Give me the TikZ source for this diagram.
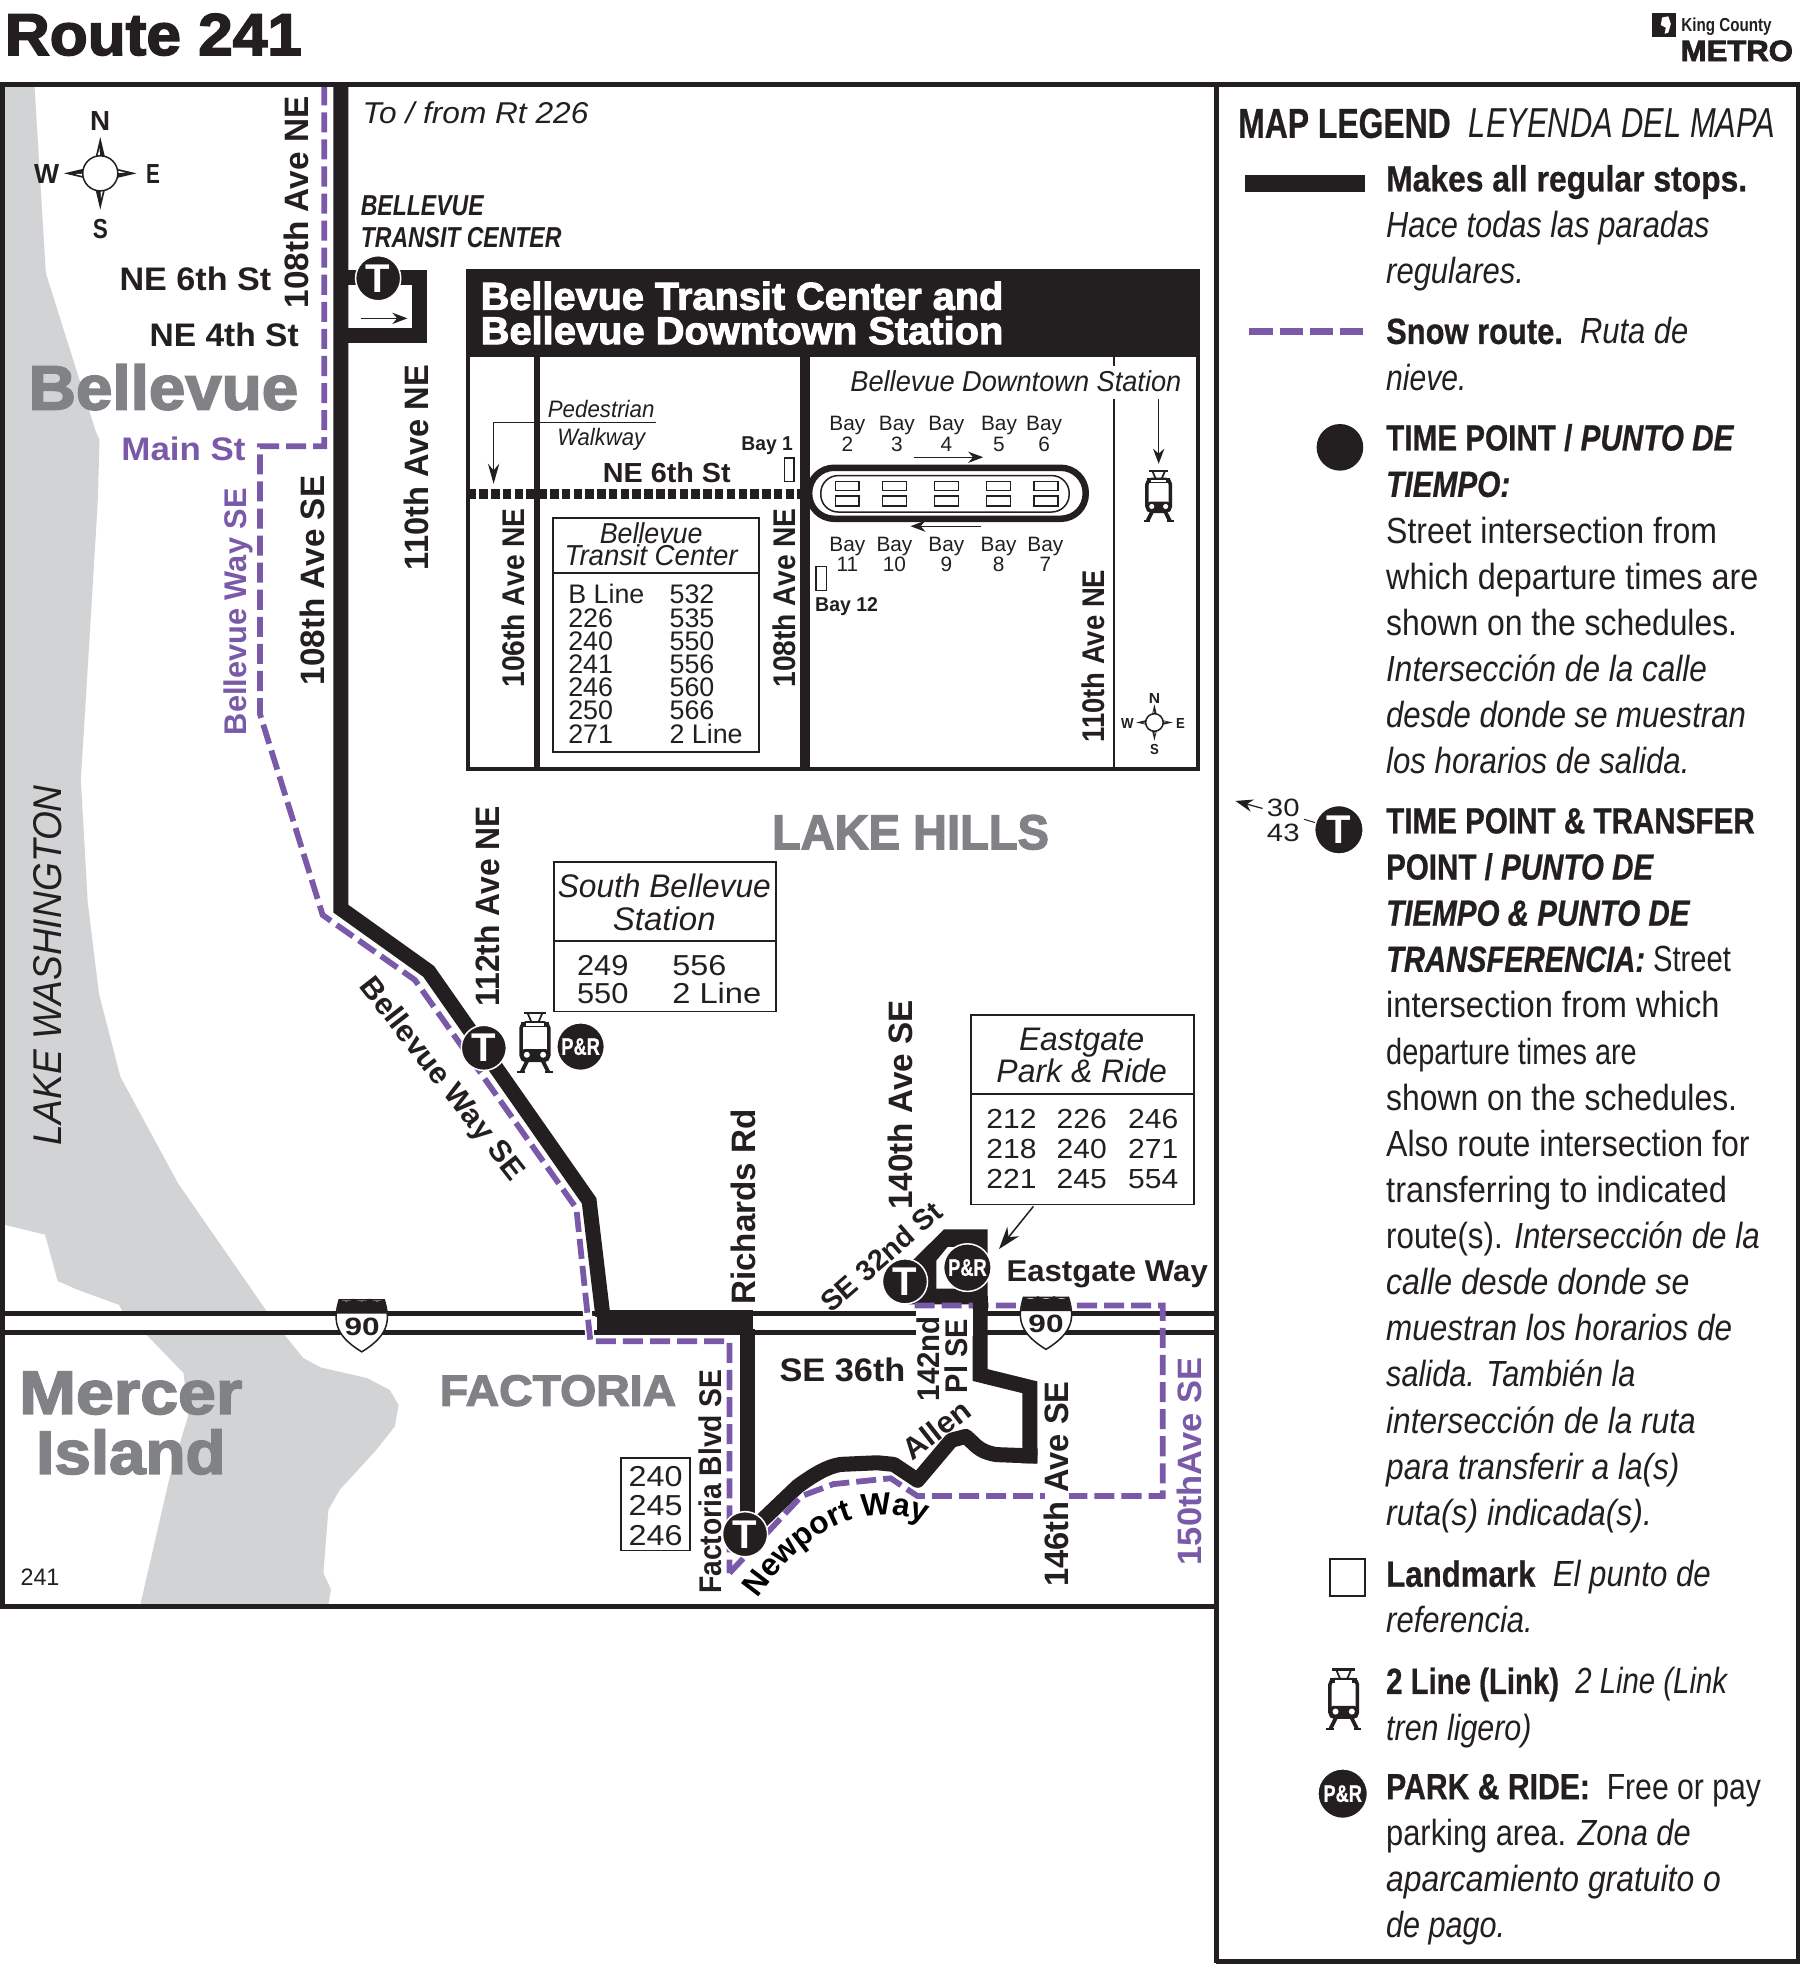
\documentclass[tikz,border=0pt]{standalone}
\usepackage{fontspec}
\usepackage{graphicx}
\usetikzlibrary{arrows.meta,decorations.text}
\setmainfont{Liberation Sans}
\newfontfamily\heavy[FakeBold=2.6]{Liberation Sans}
\newfontfamily\legb[FakeBold=.7]{Liberation Sans}
\definecolor{ink}{HTML}{231F20}
\definecolor{snow}{HTML}{7A5AA8}
\definecolor{lake}{HTML}{D1D3D4}
\definecolor{gtext}{HTML}{808285}
\newcommand\fs[1]{\fontsize{#1}{#1}\selectfont}
\newcommand\nwfont{\fs{12.6}\bfseries}
% \TX{options}{x}{y}{width in picture units}{font}{text}: text fitted to width, centred on its capitals
\newcommand\TX[6]{\pgfmathsetlengthmacro\lw{(#4)/2}\node[inner sep=0,text=ink,#1] at (#2,#3) {\resizebox{\lw}{\height}{#5\raisebox{0pt}[0.716em][0pt]{#6}}};}
% legend line: y of capitals' centre, right end, text
\newcommand\LG[3]{\TX{anchor=west}{1105.5}{#1-1}{#2-1106}{\fs{14.5}}{#3}}
\newcommand\BT{\legb\bfseries}
\newcommand\IT{\rmfamily\mdseries\itshape}
\newcommand\RG{\rmfamily\mdseries\upshape}
\newcommand\PRtext{\resizebox{15.4pt}{\height}{P\&R}}
\tikzset{
  tp/.style={circle,fill=ink,draw=white,line width=.6pt,text=white,inner sep=0,minimum size=18pt,font=\fs{16}\bfseries},
  pr/.style={circle,fill=ink,draw=white,line width=.6pt,text=white,inner sep=0,minimum size=19pt,font=\fs{9.6}\legb\bfseries},
  route/.style={ink,line width=6pt,line join=miter},
  snowline/.style={snow,line width=2.3pt,dash pattern=on 8pt off 2.8pt,line join=miter},
  snowcase/.style={white,line width=3.6pt},
  thinarrow/.style={ink,line width=.5pt,-{Stealth[length=6pt,width=4.5pt]}},
  frameline/.style={ink,line width=2pt},
  boxline/.style={ink,line width=.75pt},
  small/.style={inner sep=0,text=ink,text height=6pt,text depth=0pt,font=\fs{8.3}},
  busno/.style={inner sep=0,text=ink,text height=7pt,text depth=0pt,anchor=west,font=\fs{10.7}},
  compass/.pic={
    \foreach \a in {0,90,180,270}{
      \begin{scope}[rotate=\a]
        \fill[ink] (0,-29)--(-4,-12)--(4,-12)--cycle;
        \fill[white] (-.6,-20)--(-2.4,-13)--(-.2,-13)--cycle;
      \end{scope}
    }
    \draw[ink,line width=.6pt,fill=white] (0,0) circle[radius=14];
  },
  train/.pic={
    \draw[ink,line width=.9pt] (-9,-24)--(9,-24);
    \draw[ink,line width=.7pt] (-6,-24)--(-3,-17) (6,-24)--(3,-17);
    \draw[ink,line width=1.4pt,fill=white,rounded corners=2pt] (-11,-16) rectangle (11,14);
    \fill[ink] (-11,-17) rectangle (11,-13);
    \fill[white] (-7,-15.8) rectangle (7,-13.6);
    \fill[ink,rounded corners=1.5pt] (-11.5,5) rectangle (11.5,15);
    \fill[white] (-6.5,9.5) circle[radius=2.4] (6.5,9.5) circle[radius=2.4];
    \draw[ink,line width=1.5pt] (-6,14)--(-10.5,23) (6,14)--(10.5,23);
    \draw[ink,line width=.9pt] (-14,23.4)--(-8,23.4) (8,23.4)--(14,23.4);
  },
  shield/.pic={
    \draw[ink,line width=.6pt,fill=white] (-18,-20) .. controls (-22,-6) and (-24,7) .. (0,21.5) .. controls (24,7) and (22,-6) .. (18,-20) -- cycle;
    \fill[ink] (-18,-20.5) .. controls (-14,-18) and (-10,-18) .. (-6.5,-21) .. controls (-3,-18) and (3,-18) .. (6.5,-21) .. controls (10,-18) and (14,-18) .. (18,-20.5) -- (20,-9) -- (-20,-9) -- cycle;
  }
}
\begin{document}
\begin{tikzpicture}[x=.5pt,y=-.5pt]
\useasboundingbox (0,0) rectangle (1436,1566.9);
\fill[white] (0,0) rectangle (1436,1566.9);

% water
\fill[lake] (3,68) -- (27.5,68) -- (36.6,218) -- (76,343) -- (79.4,351) -- (78,400) -- (72,500) -- (64.5,622) -- (70,720) -- (79,793) -- (96,859) -- (142,944) -- (212,1045) -- (227,1065) -- (242,1083.5) -- (256,1091) -- (293,1099.5) -- (311,1109) -- (318,1121) -- (315,1138) -- (300,1157) -- (271,1188.6) -- (262,1204.5) -- (258,1255) -- (264,1268) -- (262,1280) -- (112,1280) -- (135.5,1178) -- (150,1130) -- (146.5,1095.5) -- (117,1065) -- (97,1045) -- (95,1041) -- (62,1029) -- (46,1022) -- (36,985) -- (3,977) -- cycle;

% interstate
\fill[white] (3,1048) rectangle (970,1063);
\draw[ink,line width=2.2pt] (3,1048) -- (970,1048);
\draw[ink,line width=1.8pt] (3,1063) -- (970,1063);

% route
\coordinate (r1) at (272,66);
\coordinate (r2) at (272,725);
\coordinate (r3) at (342,775);
\coordinate (r4) at (470,958);
\coordinate (r5) at (481,1050);
\draw[route] (r1) -- (r2) -- (r3) -- (r4) -- (r5);
\fill[ink] (476,1045.5) rectangle (601,1065);
\draw[route] (596,1060) -- (596,1225);
\draw[route,line join=round] (596,1225) -- (609.5,1211.5) -- (636.5,1185.7) .. controls (650,1176) and (660,1170) .. (670.7,1168.3) -- (700,1167) -- (713,1168.3) -- (732,1181) -- (759,1149) -- (770.5,1146) .. controls (778,1152) and (780,1158) .. (795,1160.5) -- (827.7,1161.7);
\draw[route] (821.7,1167.5) -- (821.7,1106.8) -- (782,1097) -- (782,1035);
\fill[ink] (727.7,1005.9) -- (753.3,980.7) -- (788,980.7) -- (788,1040.6) -- (724.8,1040.6) -- cycle;
\fill[white] (747,1005.9) -- (756,995) -- (776,995) -- (776,1028) -- (747,1028) -- cycle;
% NE 6th / NE 4th loop
\draw[route,line width=5.9pt] (272,221.7) -- (334.5,221.7) -- (334.5,267.7) -- (272,267.7);

% snow route
\def\snowpathA{(258.6,68) -- (258.6,356) -- (207.5,356) -- (207.5,570) -- (257.4,730) -- (331,781.8) -- (459.8,964) -- (471,1070) -- (582,1070) -- (582,1255)}
\draw[snowcase] \snowpathA;
\draw[snowline] \snowpathA;
\def\snowpathB{(582,1255) -- (639.4,1193.6) -- (665,1184) -- (710.6,1179.4) -- (732,1193.6) -- (927.7,1193.6) -- (927.7,1041.5) -- (724.8,1041.5)}
\draw[snowline] \snowpathB;
\draw[route] (782,1034) -- (782,1050);

% masks for crossing labels
\fill[white] (731,1044) rectangle (776,1066);

% inset
\fill[white] (372.5,216) rectangle (956.4,613.5);
\fill[ink] (372.5,216) rectangle (956.4,285);
\draw[ink,line width=1.5pt] (373.5,216) rectangle (955.8,613.5);
\draw[ink,line width=2.3pt] (428.6,285) -- (428.6,613);
\draw[ink,line width=3.8pt] (642.4,285) -- (642.4,613);
\draw[ink,line width=.6pt] (888.8,285) -- (888.8,292) (888.8,318) -- (888.8,613);
\draw[ink,line width=4pt,dash pattern=on 3.4pt off 1.3pt] (373,394) -- (645,394);
\draw[ink,line width=2.6pt,rounded corners=10pt] (645.5,373.2) rectangle (866.2,413.9);
\draw[ink,line width=.6pt,rounded corners=7pt] (654.8,379.4) rectangle (853,408.5);
\foreach \cx in {666.4,704.3,745.7,787,825}{
  \draw[ink,line width=.5pt] (\cx,383.9) rectangle ++(19,7.4);
  \draw[ink,line width=.5pt] (\cx,395.8) rectangle ++(19,7.9);
}
\coordinate (arrA1) at (729.4,364.8); \coordinate (arrA2) at (784.4,364.8);
\coordinate (arrB1) at (782.4,419.8); \coordinate (arrB2) at (726.4,419.8);
\draw[thinarrow] (arrA1) -- (arrA2);
\draw[thinarrow] (arrB1) -- (arrB2);
\draw[ink,line width=.6pt] (625.8,365.3) rectangle (633.5,384);
\draw[ink,line width=.6pt] (651,452) rectangle (659.5,471);
\coordinate (pw0) at (523,337); \coordinate (pw1) at (393.8,337); \coordinate (pw2) at (393.8,386);
\draw[ink,line width=.4pt,-{Stealth[length=8pt,width=4.5pt]}] (pw0) -- (pw1) -- (pw2);
\coordinate (ts1) at (924.4,318.5); \coordinate (ts2) at (924.4,370);
\draw[thinarrow] (ts1) -- (ts2);
\pic[scale=.85] at (924.4,396) {train};
\pic[scale=.5] at (921,576.4) {compass};

\TX{}{592}{236}{417}{\fs{15.5}\heavy\bfseries\color{white}}{\textcolor{white}{Bellevue Transit Center and}}
\TX{}{592}{263.5}{417}{\fs{15.5}\heavy\bfseries\color{white}}{\textcolor{white}{Bellevue Downtown Station}}
\TX{}{810.5}{304.5}{264}{\fs{11.5}\itshape}{Bellevue Downtown Station}
\TX{}{479.6}{326}{85}{\fs{9.5}\itshape}{Pedestrian}
\TX{}{479.6}{348.4}{70}{\fs{9.5}\itshape}{Walkway}
\TX{}{532}{376.7}{102}{\fs{11}\bfseries}{NE 6th St}
\TX{}{612}{354}{41}{\fs{8}\bfseries}{Bay 1}
\TX{anchor=west}{650}{482}{50}{\fs{8}\bfseries}{Bay 12}
\foreach \lx/\ln in {676/2,715.5/3,755/4,797/5,833/6}{
  \node[small] (bt\ln) at (\lx,337.8) {Bay};
  \node[small] (bn\ln) at (\lx,354.5) {\ln};
}
\foreach \lx/\ln in {676/11,713.6/10,755/9,796.7/8,834/7}{
  \node[small] (bt\ln) at (\lx,433.6) {Bay};
  \node[small] (bn\ln) at (\lx,450.3) {\ln};
}
\TX{rotate=90}{409.3}{477}{143}{\fs{12.5}\bfseries}{106th Ave NE}
\TX{rotate=90}{625.8}{477}{143}{\fs{12.5}\bfseries}{108th Ave NE}
\TX{rotate=90}{872.5}{523.5}{138}{\fs{12.5}\bfseries}{110th Ave NE}
\TX{}{921}{557}{9}{\fs{5.8}\bfseries}{N}
\TX{}{921}{597.6}{7}{\fs{5.8}\bfseries}{S}
\TX{}{899.5}{577}{10}{\fs{5.8}\bfseries}{W}
\TX{}{941.8}{577}{7}{\fs{5.8}\bfseries}{E}

% transit center list
\draw[boxline] (441.4,413.2) rectangle (605.3,599.7);
\draw[boxline] (441.4,457) -- (605.3,457);
\TX{}{519.5}{425.6}{82}{\fs{11.5}\itshape}{Bellevue}
\TX{}{519.5}{442.8}{138}{\fs{11.5}\itshape}{Transit Center}
\foreach \ly/\la/\lb in {474.3/B Line/532,493.3/226/535,511.9/240/550,530.4/241/556,548.9/246/560,567.4/250/566,585.9/271/2 Line}{
  \node[busno] (bca\la) at (453,\ly) {\la};
  \node[busno] (bcb\lb) at (533.8,\ly) {\lb};
}

% upper-left labels
\pic at (80,138.3) {compass};
\TX{}{80}{96.5}{16}{\fs{11}\bfseries}{N}
\TX{}{80}{182.6}{12}{\fs{11}\bfseries}{S}
\TX{}{37.3}{138.3}{20}{\fs{11}\bfseries}{W}
\TX{}{122}{138.3}{11}{\fs{11}\bfseries}{E}
\TX{rotate=90}{236.6}{161.5}{169}{\fs{13.5}\bfseries}{108th Ave NE}
\TX{anchor=west}{289}{90}{180}{\fs{12}\itshape}{To / from Rt 226}
\TX{anchor=west}{287.5}{164}{98}{\fs{11.5}\bfseries\itshape}{BELLEVUE}
\TX{anchor=west}{287.5}{189.5}{160}{\fs{11.5}\bfseries\itshape}{TRANSIT CENTER}
\TX{anchor=west}{95}{222.7}{121}{\fs{13}\bfseries}{NE 6th St}
\TX{anchor=west}{119}{267.3}{119}{\fs{13}\bfseries}{NE 4th St}
\TX{text=gtext,anchor=west}{22.5}{308.8}{215}{\fs{25}\heavy\bfseries\color{gtext}}{\textcolor{gtext}{Bellevue}}
\TX{anchor=west}{96.5}{358.2}{99}{\fs{13}\bfseries\color{snow}}{\textcolor{snow}{Main St}}
\TX{rotate=90}{332}{373}{164}{\fs{13.5}\bfseries}{110th Ave NE}
\TX{rotate=90}{249}{463}{167}{\fs{13.5}\bfseries}{108th Ave SE}
\TX{rotate=90}{188}{488}{197}{\fs{12.5}\bfseries\color{snow}}{\textcolor{snow}{Bellevue Way SE}}
\TX{rotate=90}{38}{770}{287}{\fs{16}\itshape}{LAKE WASHINGTON}
\node[tp] (tbtc) at (301.7,222) {T};
\coordinate (tcA) at (288,254); \coordinate (tcB) at (325,254);
\draw[thinarrow] (tcA) -- (tcB);

% south bellevue
\TX{rotate=90}{388.7}{723}{160}{\fs{13.5}\bfseries}{112th Ave NE}
\draw[boxline] (442,688) rectangle (619,807);
\draw[boxline] (442,751) -- (619,751);
\TX{}{530}{707}{170}{\fs{13}\itshape}{South Bellevue}
\TX{}{530}{733}{82}{\fs{13}\itshape}{Station}
\TX{anchor=west}{460}{770}{41}{\fs{11.5}}{249}
\TX{anchor=west}{460}{792}{41}{\fs{11.5}}{550}
\TX{anchor=west}{536}{770}{43}{\fs{11.5}}{556}
\TX{anchor=west}{536}{792}{71}{\fs{11.5}}{2 Line}
\TX{rotate=-52}{354}{860}{198}{\fs{12}\bfseries}{Bellevue Way SE}
\node[tp] (tsb) at (386,836) {T};
\pic at (426.8,832) {train};
\node[pr] (prsb) at (463.2,835) {\PRtext};
\TX{anchor=west}{615.5}{663.5}{221}{\fs{19.5}\heavy\bfseries\color{gtext}}{\textcolor{gtext}{LAKE HILLS}}

% lower labels
\TX{rotate=90}{593}{963}{156}{\fs{13.5}\bfseries}{Richards Rd}
\TX{rotate=90}{718}{881.5}{167}{\fs{13.5}\bfseries}{140th Ave SE}
\TX{rotate=41}{703}{1002.5}{120}{\fs{11.5}\bfseries}{SE 32nd St}
\draw[boxline] (774.7,809.5) rectangle (952.8,961);
\draw[boxline] (774.7,872.9) -- (952.8,872.9);
\TX{}{863}{828.4}{100}{\fs{13}\itshape}{Eastgate}
\TX{}{863}{854}{136}{\fs{13}\itshape}{Park \& Ride}
\foreach \nx/\na/\nb/\nc in {807/212/218/221,863/226/240/245,920/246/271/554}{
  \TX{}{\nx}{892.4}{40}{\fs{11}}{\na}
  \TX{}{\nx}{916}{40}{\fs{11}}{\nb}
  \TX{}{\nx}{940.3}{40}{\fs{11}}{\nc}
}
\coordinate (egA) at (824.5,962.4); \coordinate (egB) at (797,996.5);
\draw[thinarrow,line width=.6pt,-{Stealth[length=9pt,width=6pt]}] (egA) -- (egB);
\TX{}{883.3}{1013.5}{160.6}{\fs{12}\bfseries}{Eastgate Way}
\TX{anchor=west}{621.5}{1093}{100.5}{\fs{13}\bfseries}{SE 36th}
\TX{rotate=90}{740.5}{1084}{68}{\fs{12.5}\bfseries}{142nd}
\TX{rotate=90}{763}{1082}{59}{\fs{12.5}\bfseries}{Pl SE}
\TX{rotate=38}{747}{1140.5}{61}{\fs{12}\bfseries}{Allen}
\path[postaction={decorate},decoration={text along path,text align=center,text={|\nwfont|Newport Way}}] (600,1281) .. controls (640,1222) and (690,1192) .. (745,1218);
\TX{rotate=90}{566.7}{1182}{179}{\fs{12.5}\bfseries}{Factoria Blvd SE}
\draw[boxline] (495.5,1163.3) rectangle (550.5,1237);
\TX{}{523}{1178}{43}{\fs{11.5}}{240}
\TX{}{523}{1201}{43}{\fs{11.5}}{245}
\TX{}{523}{1224.5}{43}{\fs{11.5}}{246}
\TX{anchor=west}{350.5}{1109}{188.5}{\fs{17.5}\heavy\bfseries\color{gtext}}{\textcolor{gtext}{FACTORIA}}
\TX{anchor=west}{15}{1110.5}{178}{\fs{24.5}\heavy\bfseries\color{gtext}}{\textcolor{gtext}{Mercer}}
\TX{anchor=west}{28.5}{1158.3}{151}{\fs{24.5}\heavy\bfseries\color{gtext}}{\textcolor{gtext}{Island}}
\TX{anchor=west}{16}{1258.5}{31}{\fs{9.5}}{241}
\TX{rotate=90,fill=white}{843}{1184}{164}{\fs{13.5}\bfseries}{146th Ave SE}
\TX{rotate=90}{948.5}{1166}{165.6}{\fs{13.5}\bfseries\color{snow}}{\textcolor{snow}{150thAve SE}}
\pic at (288.6,1057) {shield};
\pic at (834.5,1055) {shield};
\TX{}{289}{1058}{28}{\fs{10}\bfseries}{90}
\TX{}{834.5}{1056}{28}{\fs{10}\bfseries}{90}
\node[tp] (tfac) at (594.4,1224) {T};
\node[tp] (teg) at (722,1022.3) {T};
\node[pr] (preg) at (771.8,1011.3) {\PRtext};

% frames
\draw[frameline] (0,67.5) -- (1436,67.5);
\draw[frameline] (1.8,67) -- (1.8,1284);
\draw[frameline] (0,1282) -- (971,1282);
\draw[frameline] (970.5,67) -- (970.5,1566);
\draw[frameline] (1434.7,67) -- (1434.7,1566);
\draw[frameline] (970,1565) -- (1436,1565);

% heading
\TX{anchor=west}{3.5}{27}{237}{\fs{23.6}\heavy\bfseries}{Route 241}
\fill[ink] (1317.6,10) rectangle (1337.4,29.8);
\fill[white] (1326,14) -- (1331,13) -- (1333,19) -- (1331,26) -- (1328,27) -- (1329,22) -- (1325,20) -- cycle;
\TX{anchor=west}{1341}{20}{72}{\fs{7.5}\bfseries}{King County}
\TX{anchor=west}{1340.5}{40.3}{89.5}{\fs{11.7}\heavy\bfseries}{METRO}

% legend
\TX{anchor=west}{987.5}{98}{169.5}{\fs{16.7}\legb\bfseries}{MAP LEGEND}
\TX{anchor=west}{1171.5}{98}{244.5}{\fs{16.7}\itshape}{LEYENDA DEL MAPA}
\fill[ink] (993,140) rectangle (1088.6,153);
\draw[snow,line width=2.6pt,dash pattern=on 9.5pt off 2.5pt] (996.8,264.6) -- (1087.6,264.6);
\fill[ink] (1069,356.9) circle[radius=18.6];
\LG{143.3}{1394}{\BT Makes all regular stops.}
\LG{180.2}{1364}{\itshape Hace todas las paradas}
\LG{217.1}{1216}{\itshape regulares.}
\LG{265}{1347}{\BT Snow route.\ \ \IT Ruta de}
\LG{302}{1170}{\itshape nieve.}
\LG{350}{1383}{\BT TIME POINT / \itshape PUNTO DE}
\LG{387}{1205}{\BT\itshape TIEMPO:}
\LG{424}{1370}{Street intersection from}
\LG{460.8}{1403}{which departure times are}
\LG{497.6}{1386}{shown on the schedules.}
\LG{534.4}{1362}{\itshape Intersección de la calle}
\LG{571.2}{1393}{\itshape desde donde se muestran}
\LG{608}{1348}{\itshape los horarios de salida.}
\node[tp,minimum size=19.4pt] (tleg) at (1068.2,662) {T};
\TX{}{1023.8}{644.3}{26}{\fs{10}}{30}
\TX{}{1023.8}{664}{26}{\fs{10}}{43}
\coordinate (a30A) at (1007.3,645); \coordinate (a30B) at (985.6,639);
\draw[thinarrow,-{Stealth[length=7pt,width=5pt]}] (a30A) -- (a30B);
\coordinate (a43) at (1040.3,653.6);
\draw[ink,line width=.4pt] (a43) -- (tleg);
\LG{655.5}{1400}{\BT TIME POINT \& TRANSFER}
\LG{692.3}{1319}{\BT POINT / \itshape PUNTO DE}
\LG{729.1}{1348}{\BT\itshape TIEMPO \& PUNTO DE}
\LG{765.9}{1381}{\BT\itshape TRANSFERENCIA: \RG Street}
\LG{802.7}{1372}{intersection from which}
\LG{839.5}{1306}{departure times are}
\LG{876.3}{1386}{shown on the schedules.}
\LG{913.1}{1396}{Also route intersection for}
\LG{949.9}{1378}{transferring to indicated}
\LG{986.7}{1404}{route(s). \itshape Intersección de la}
\LG{1023.5}{1348}{\itshape calle desde donde se}
\LG{1060.3}{1382}{\itshape muestran los horarios de}
\LG{1097.1}{1305}{\itshape salida. También la}
\LG{1133.9}{1353}{\itshape intersección de la ruta}
\LG{1170.7}{1340}{\itshape para transferir a la(s)}
\LG{1207.5}{1318}{\itshape ruta(s) indicada(s).}
\draw[ink,line width=.75pt] (1061,1243.5) rectangle (1089,1273.5);
\LG{1256.5}{1365}{\BT Landmark\ \ \IT El punto de}
\LG{1293.3}{1223}{\itshape referencia.}
\pic at (1072,1356) {train};
\LG{1342}{1378}{\BT 2 Line (Link)\ \ \IT 2 Line (Link}
\LG{1378.8}{1222}{\itshape tren ligero)}
\node[pr,minimum size=19.8pt] (prleg) at (1071.2,1431) {\PRtext};
\LG{1426}{1405}{\BT PARK \& RIDE:\ \ \RG Free or pay}
\LG{1463}{1349}{parking area. \itshape Zona de}
\LG{1499.8}{1373}{\itshape aparcamiento gratuito o}
\LG{1536.6}{1201}{\itshape de pago.}
\end{tikzpicture}
\end{document}
